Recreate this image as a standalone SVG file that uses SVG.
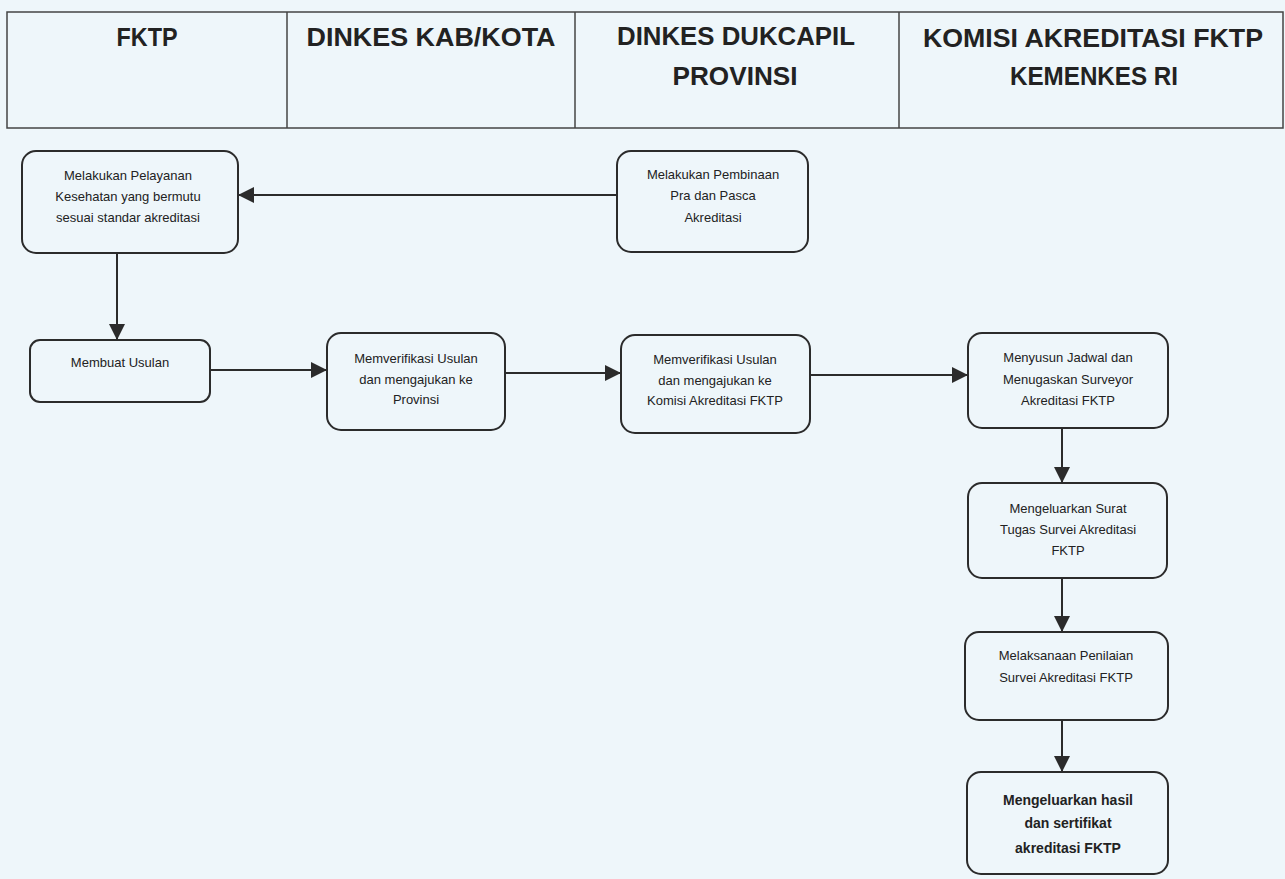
<svg xmlns="http://www.w3.org/2000/svg" width="1285" height="879" viewBox="0 0 1285 879">
<style>
.hdr{font-family:"Liberation Sans",Arial,sans-serif;font-weight:bold;font-size:26px;fill:#222;text-anchor:middle}
.box{fill:#eef6fa;stroke:#2b2b2b;stroke-width:2}
.t{font-family:"Liberation Sans",Arial,sans-serif;font-size:13px;fill:#222;text-anchor:middle}
.tb{font-family:"Liberation Sans",Arial,sans-serif;font-size:14px;font-weight:bold;fill:#222;text-anchor:middle}
.con{fill:none;stroke:#2b2b2b;stroke-width:2}
.hl{fill:none;stroke:#444;stroke-width:1.5}
</style>
<defs>
<marker id="ah" markerUnits="userSpaceOnUse" markerWidth="17" markerHeight="18" refX="16" refY="9" orient="auto">
<path d="M0,1 L16,9 L0,17 Z" fill="#2b2b2b"/>
</marker>
</defs>
<rect x="0" y="0" width="1285" height="879" fill="#eef6fa"/>
<g id="header">
<rect x="7" y="12" width="1276" height="116" class="hl"/>
<line class="hl" x1="287" y1="12" x2="287" y2="128"/>
<line class="hl" x1="575" y1="12" x2="575" y2="128"/>
<line class="hl" x1="899" y1="12" x2="899" y2="128"/>
<text class="hdr" x="147" y="46" textLength="61" lengthAdjust="spacingAndGlyphs">FKTP</text>
<text class="hdr" x="431" y="46" textLength="249" lengthAdjust="spacingAndGlyphs">DINKES KAB/KOTA</text>
<text class="hdr" x="736" y="45" textLength="238" lengthAdjust="spacingAndGlyphs">DINKES DUKCAPIL</text>
<text class="hdr" x="735" y="85" textLength="125" lengthAdjust="spacingAndGlyphs">PROVINSI</text>
<text class="hdr" x="1093" y="47" textLength="340" lengthAdjust="spacingAndGlyphs">KOMISI AKREDITASI FKTP</text>
<text class="hdr" x="1094" y="85" textLength="168" lengthAdjust="spacingAndGlyphs">KEMENKES RI</text>
</g>
<g id="connectors">
<path class="con" d="M617,195 L238,195" marker-end="url(#ah)"/>
<path class="con" d="M117,253 L117,340" marker-end="url(#ah)"/>
<path class="con" d="M210,370 L327,370" marker-end="url(#ah)"/>
<path class="con" d="M505,373 L621,373" marker-end="url(#ah)"/>
<path class="con" d="M810,375 L968,375" marker-end="url(#ah)"/>
<path class="con" d="M1062,428 L1062,483" marker-end="url(#ah)"/>
<path class="con" d="M1062,578 L1062,632" marker-end="url(#ah)"/>
<path class="con" d="M1062,720 L1062,772" marker-end="url(#ah)"/>
</g>
<g id="n-pelayanan">
<rect class="box" x="22" y="151" width="216" height="102" rx="14"/>
<text class="t" x="128" y="180">Melakukan Pelayanan</text>
<text class="t" x="128" y="201">Kesehatan yang bermutu</text>
<text class="t" x="128" y="222">sesuai standar akreditasi</text>
</g>
<g id="n-pembinaan">
<rect class="box" x="617" y="151" width="191" height="101" rx="14"/>
<text class="t" x="713" y="179">Melakukan Pembinaan</text>
<text class="t" x="713" y="200">Pra dan Pasca</text>
<text class="t" x="713" y="222">Akreditasi</text>
</g>
<g id="n-usulan">
<rect class="box" x="30" y="340" width="180" height="62" rx="10"/>
<text class="t" x="120" y="367">Membuat Usulan</text>
</g>
<g id="n-verif-kab">
<rect class="box" x="327" y="333" width="178" height="97" rx="14"/>
<text class="t" x="416" y="363">Memverifikasi Usulan</text>
<text class="t" x="416" y="384">dan mengajukan ke</text>
<text class="t" x="416" y="404">Provinsi</text>
</g>
<g id="n-verif-prov">
<rect class="box" x="621" y="335" width="189" height="98" rx="14"/>
<text class="t" x="715" y="364">Memverifikasi Usulan</text>
<text class="t" x="715" y="385">dan mengajukan ke</text>
<text class="t" x="715" y="405">Komisi Akreditasi FKTP</text>
</g>
<g id="n-jadwal">
<rect class="box" x="968" y="333" width="200" height="95" rx="14"/>
<text class="t" x="1068" y="362">Menyusun Jadwal dan</text>
<text class="t" x="1068" y="384">Menugaskan Surveyor</text>
<text class="t" x="1068" y="405">Akreditasi FKTP</text>
</g>
<g id="n-surat">
<rect class="box" x="968" y="483" width="199" height="95" rx="14"/>
<text class="t" x="1068" y="513">Mengeluarkan Surat</text>
<text class="t" x="1068" y="534">Tugas Survei Akreditasi</text>
<text class="t" x="1068" y="555">FKTP</text>
</g>
<g id="n-penilaian">
<rect class="box" x="965" y="632" width="203" height="88" rx="14"/>
<text class="t" x="1066" y="660">Melaksanaan Penilaian</text>
<text class="t" x="1066" y="682">Survei Akreditasi FKTP</text>
</g>
<g id="n-hasil">
<rect class="box" x="967" y="772" width="201" height="102" rx="14"/>
<text class="tb" x="1068" y="805">Mengeluarkan hasil</text>
<text class="tb" x="1068" y="828">dan sertifikat</text>
<text class="tb" x="1068" y="853">akreditasi FKTP</text>
</g>
</svg>
